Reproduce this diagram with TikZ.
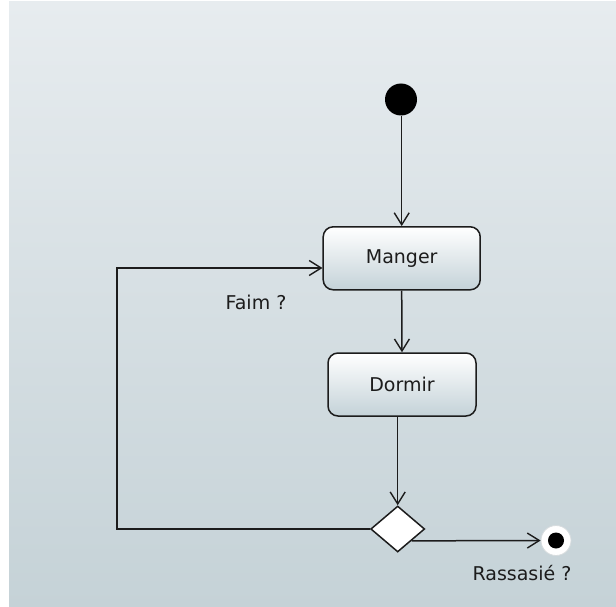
\documentclass[tikz,border=0pt]{standalone}
\usepackage{fontspec}
\setmainfont{DejaVu Sans}
\usetikzlibrary{shapes.geometric,arrows.meta}
\definecolor{bgtop}{RGB}{231,236,239}
\definecolor{bgbot}{RGB}{197,210,215}
\definecolor{boxbot}{RGB}{196,210,216}
\definecolor{ink}{RGB}{28,28,28}
\definecolor{ringgray}{RGB}{215,220,222}
\begin{document}
\begin{tikzpicture}[x=1pt,y=-1pt,
  every node/.style={font=\fontsize{19}{23}\selectfont, text=ink},
  activity/.style={draw=ink, line width=1.5pt, rounded corners=10pt,
    top color=white, bottom color=boxbot, minimum height=63pt, inner sep=0pt},
  decision/.style={diamond, draw=ink, line width=1.5pt, fill=white,
    minimum width=54pt, minimum height=46pt, aspect=1.17, inner sep=0pt},
  initial/.style={circle, fill=black, minimum size=32pt, inner sep=0pt},
  final/.style={circle, fill=white, draw=ringgray, line width=0.8pt,
    minimum size=30pt, inner sep=0pt},
  flow/.style={draw=ink, line width=1.5pt,
    -{Straight Barb[length=12pt,width=15pt,line width=1.4pt]}}]
  \useasboundingbox (0,0) rectangle (616,607);
  % backdrop
  \fill[top color=bgtop, bottom color=bgbot] (9,2) rectangle (616,607);

  % states
  \node[initial] (init) at (401,99.5) {};
  \node[activity, minimum width=157pt] (manger) at (401.7,258.3) {Manger};
  \node[activity, minimum width=148pt] (dormir) at (402,384.5) {Dormir};
  \node[decision] (dec) at (397.7,529) {};
  \node[final] (final) at (556,540.5) {};
  \fill[black] (final) circle (8pt);

  % loop-back corner
  \coordinate (lt) at (117,268);

  % transitions
  \draw[flow] (init.south -| manger.north) -- (manger.north);
  \draw[flow] (manger.south) -- (dormir.north);
  \draw[flow] (dormir.south -| dec.north) -- (dec.north);
  \draw[flow] (dec.west) -- (dec.west -| lt) -- (lt) -- (lt -| manger.west);
  \draw[flow] (dec.south east) -- (final.west);

  % guards
  \node (faim) at (256,302) {Faim ?};
  \node (rassasie) at (522,573) {Rassasié ?};
\end{tikzpicture}
\end{document}
